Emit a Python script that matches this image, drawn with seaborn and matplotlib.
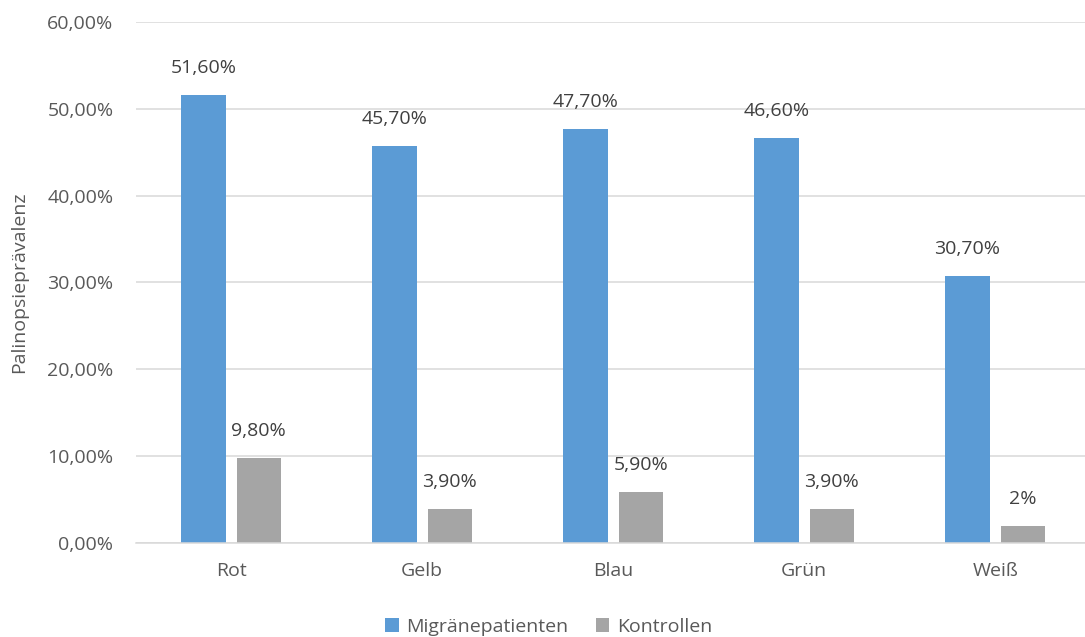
import matplotlib
matplotlib.use("Agg")
import matplotlib.pyplot as plt
import seaborn as sns
import pandas as pd
from matplotlib.ticker import FuncFormatter

# Prevalence of palinopsia by stimulus colour
colours = ["Rot", "Gelb", "Blau", "Grün", "Weiß"]
groups = ["Migränepatienten", "Kontrollen"]
migraine = [51.6, 45.7, 47.7, 46.6, 30.7]
controls = [9.8, 3.9, 5.9, 3.9, 2.0]
migraine_labels = ["51,60%", "45,70%", "47,70%", "46,60%", "30,70%"]
control_labels = ["9,80%", "3,90%", "5,90%", "3,90%", "2%"]
y_ticks = [0, 10, 20, 30, 40, 50, 60]

df = pd.DataFrame({
    "Farbe": colours * 2,
    "Gruppe": [groups[0]] * len(colours) + [groups[1]] * len(colours),
    "Wert": migraine + controls,
})

sns.set_theme(style="white")
plt.rcParams["font.family"] = ["Open Sans", "DejaVu Sans"]
text_col = "#595959"
fs = 14

fig = plt.figure(figsize=(10.85, 6.37), dpi=100)
ax = fig.add_axes([0.125, 0.1476, 0.875, 0.8179])

sns.barplot(data=df, x="Farbe", y="Wert", hue="Gruppe", order=colours,
            hue_order=groups, palette=["#5b9bd5", "#a5a5a5"],
            width=0.58, gap=0.2, saturation=1, linewidth=0, ax=ax, legend=True)

ax.set_ylim(0, 60)
ax.set_xlim(-0.5, 4.47)
ax.set_yticks(y_ticks)
ax.yaxis.set_major_formatter(FuncFormatter(lambda v, p: f"{v:.2f}".replace(".", ",") + "%"))
ax.grid(axis="y", color="#d9d9d9", linewidth=1.1)
ax.set_axisbelow(True)
for s in ["top", "right", "left"]:
    ax.spines[s].set_visible(False)
ax.spines["bottom"].set_color("#d9d9d9")
ax.spines["bottom"].set_linewidth(1.1)
ax.tick_params(axis="both", length=0, labelsize=fs, labelcolor=text_col)
ax.tick_params(axis="y", pad=16)
ax.tick_params(axis="x", pad=14)
ax.set_xlabel("")
ax.set_ylabel("Palinopsieprävalenz", fontsize=fs, color=text_col, labelpad=14)

for container, labels in zip(ax.containers, [migraine_labels, control_labels]):
    ax.bar_label(container, labels=labels, padding=13, fontsize=fs, color="#404040")

handles, lbls = ax.get_legend_handles_labels()
ax.legend(handles, lbls, loc="upper center", bbox_to_anchor=(0.435, -0.11),
          ncol=2, frameon=False, fontsize=fs, handlelength=0.7, handleheight=0.7,
          handletextpad=0.4, columnspacing=1.4, labelcolor=text_col)

fig.savefig("out.png", dpi=100)
